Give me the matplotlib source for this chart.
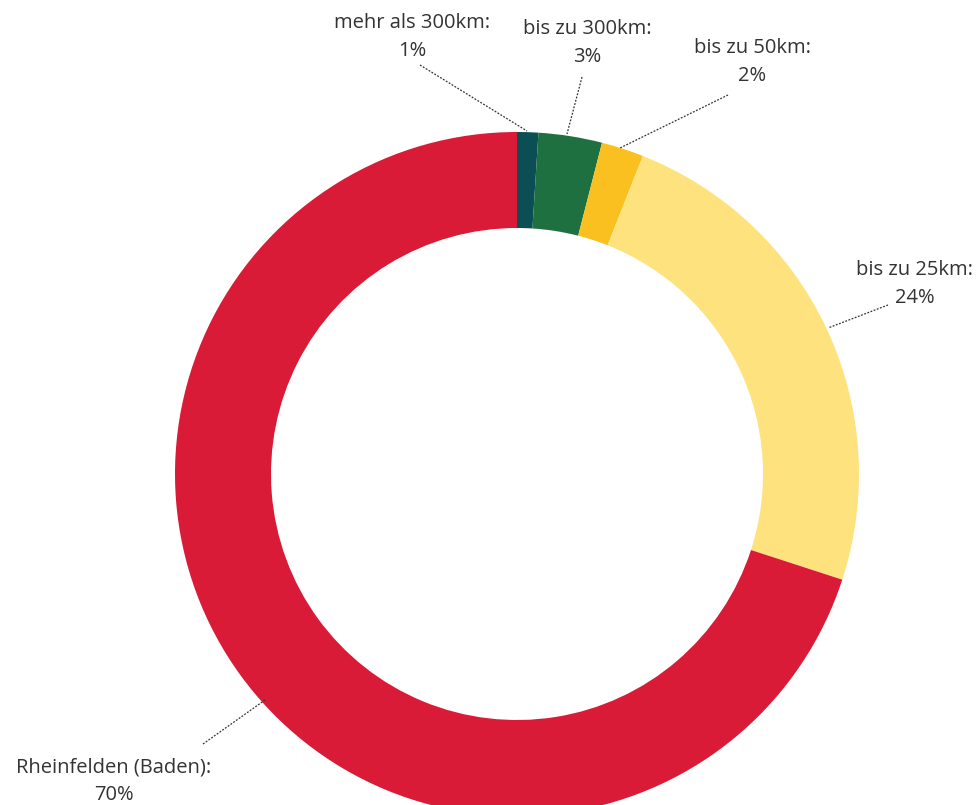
import matplotlib
matplotlib.use("Agg")
import matplotlib.pyplot as plt

labels = ["mehr als 300km", "bis zu 300km", "bis zu 50km", "bis zu 25km", "Rheinfelden (Baden)"]
values = [1, 3, 2, 24, 70]
colors = ["#0b4f55", "#1f7041", "#f9c01f", "#fde27d", "#d91b37"]

W, H = 979, 805
CX, CY, R = 517, 474, 342
R_IN = 246

def px(x, y):
    return ((x - CX) / R, (CY - y) / R)

fig = plt.figure(figsize=(W / 100, H / 100), dpi=100)
ax = fig.add_axes([0, 0, 1, 1])
ax.pie(values, colors=colors, startangle=90, counterclock=False, radius=1,
       wedgeprops=dict(width=1 - R_IN / R, linewidth=0))
ax.set_xlim(-CX / R, (W - CX) / R)
ax.set_ylim(-(H - CY) / R, CY / R)
ax.set_aspect("auto")
ax.axis("off")

# label text positions (pixels) and leader line endpoints (pixels)
text_pos = [(412, 37), (587, 43), (752, 62), (915, 284), (114, 781)]
line_start = [(420, 65), (582, 77), (728, 95), (888, 305), (203, 744)]
line_end = [(527, 131), (567, 134), (620, 148), (828, 328), (265, 700)]

for lab, v, tp, ls, le in zip(labels, values, text_pos, line_start, line_end):
    x0, y0 = px(*ls)
    x1, y1 = px(*le)
    ax.plot([x0, x1], [y0, y1], color="#333333", lw=0.9, ls=(0, (1.5, 1.2)))
    tx, ty = px(*tp)
    ax.text(tx, ty, f"{lab}:\n{v}%", ha="center", va="center", fontsize=14.5,
            family="Open Sans", color="#333333", linespacing=1.5)

fig.savefig("out.png", dpi=100)
